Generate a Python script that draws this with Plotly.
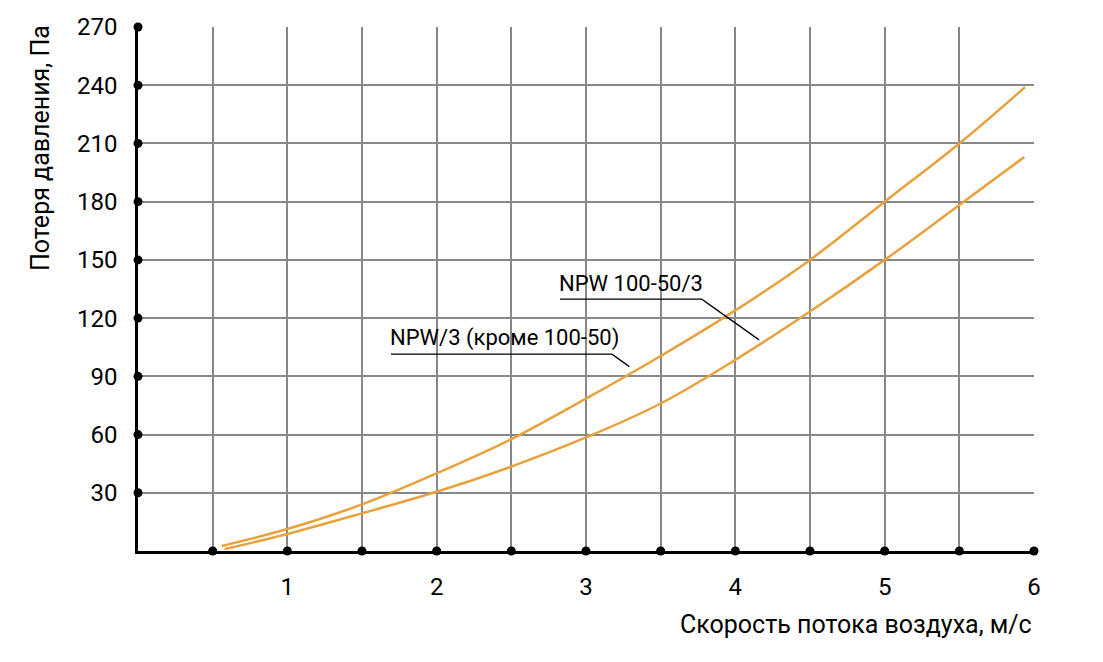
import plotly.graph_objects as go

# чтение с графика: скорость (м/с) и потеря давления (Па)
x_upper = [0.56, 1.0, 1.5, 2.0, 2.5, 3.0, 3.5, 4.0, 4.5, 5.0, 5.5, 5.94]
y_upper = [2.6, 11.3, 24.0, 40.0, 57.6, 78.5, 100.5, 124.0, 150.0, 180.0, 210.0, 239.0]
x_lower = [0.58, 1.0, 1.5, 2.0, 2.5, 3.0, 3.5, 4.0, 4.5, 5.0, 5.5, 5.935]
y_lower = [1.0, 8.8, 19.4, 30.5, 43.5, 58.5, 76.0, 98.5, 123.4, 150.0, 178.3, 203.0]

x_ticks = [0.5, 1, 1.5, 2, 2.5, 3, 3.5, 4, 4.5, 5, 5.5, 6]
x_labels = ["", "1", "", "2", "", "3", "", "4", "", "5", "", "6"]
y_ticks = [30, 60, 90, 120, 150, 180, 210, 240, 270]

label_upper = "NPW 100-50/3"
label_lower = "NPW/3 (кроме 100-50)"

FONT = "Roboto, Liberation Sans, sans-serif"
ORANGE = "#E9A13E"

fig = go.Figure()
fig.add_trace(go.Scatter(x=x_upper, y=y_upper, mode="lines",
                         line=dict(color=ORANGE, width=2.5, shape="spline")))
fig.add_trace(go.Scatter(x=x_lower, y=y_lower, mode="lines",
                         line=dict(color=ORANGE, width=2.5, shape="spline")))

# точки на осях
fig.add_trace(go.Scatter(x=x_ticks, y=[0] * len(x_ticks), mode="markers",
                         marker=dict(color="black", size=9), cliponaxis=False))
fig.add_trace(go.Scatter(x=[0] * len(y_ticks), y=y_ticks, mode="markers",
                         marker=dict(color="black", size=9), cliponaxis=False))

# выноски
fig.add_trace(go.Scatter(x=[2.826, 3.775, 4.159], y=[129.75, 129.75, 108.8], mode="lines",
                         line=dict(color="black", width=1.3)))
fig.add_trace(go.Scatter(x=[1.694, 3.174, 3.29], y=[101.4, 101.4, 95.0], mode="lines",
                         line=dict(color="black", width=1.3)))

fig.add_annotation(x=2.826, y=129.75, text=label_upper, showarrow=False,
                   xanchor="left", yanchor="bottom", yshift=1, xshift=-3,
                   font=dict(size=22, color="black", family=FONT))
fig.add_annotation(x=1.694, y=101.4, text=label_lower, showarrow=False,
                   xanchor="left", yanchor="bottom", yshift=1, xshift=-3,
                   font=dict(size=22, color="black", family=FONT))

fig.add_annotation(x=6, y=0, xref="x", yref="paper", text="Скорость потока воздуха, м/с",
                   showarrow=False, xanchor="right", yanchor="top", yshift=-57, xshift=0,
                   font=dict(size=25, color="black", family=FONT))
fig.add_annotation(x=0, y=270, xref="paper", yref="y", text="Потеря давления, Па",
                   showarrow=False, textangle=-90, xanchor="center", yanchor="top",
                   xshift=-98, yshift=4,
                   font=dict(size=25, color="black", family=FONT))

fig.update_xaxes(range=[0, 6], tickvals=x_ticks, ticktext=x_labels, automargin=False,
                 showgrid=True, gridcolor="#888888", gridwidth=1.5,
                 showline=True, linecolor="black", linewidth=2.5,
                 zeroline=False, ticks="", ticklabelstandoff=12,
                 tickfont=dict(size=24, color="black", family=FONT))
fig.update_yaxes(range=[0, 270], tickvals=y_ticks, automargin=False,
                 showgrid=True, gridcolor="#888888", gridwidth=1.5,
                 showline=True, linecolor="black", linewidth=2.5,
                 zeroline=False, ticks="", ticklabelstandoff=13,
                 tickfont=dict(size=24, color="black", family=FONT))

# страница сдвинута на 8 px отступом body, поэтому поля уменьшены
fig.update_layout(width=1103, height=662, showlegend=False,
                  plot_bgcolor="white", paper_bgcolor="white",
                  margin=dict(l=130, r=77, t=19, b=119),
                  font=dict(family=FONT, color="black"))

fig.write_html("out.html")
